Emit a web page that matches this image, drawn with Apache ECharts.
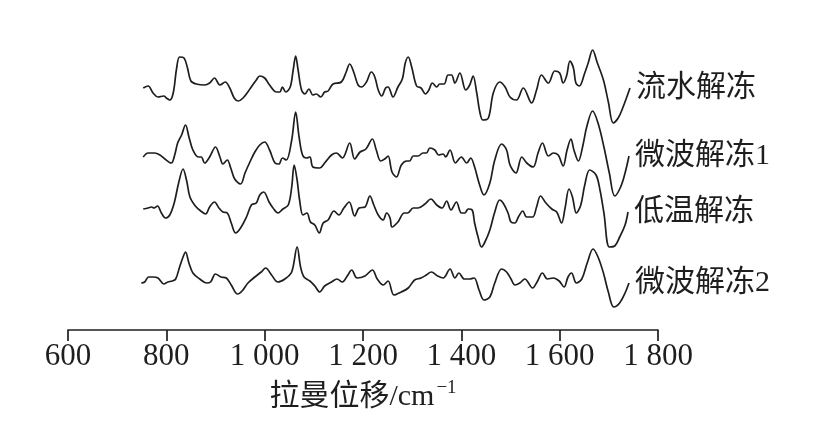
<!DOCTYPE html>
<html>
<head>
<meta charset="utf-8">
<script src="https://cdn.jsdelivr.net/npm/echarts@6/dist/echarts.min.js"></script>
<style>
html,body{margin:0;padding:0;background:#fff;}
#chart{width:839px;height:437px;}
</style>
</head>
<body>
<div id="chart"></div>
<script>
// Raman shift (cm-1) and offset intensities (a.u.)
const seriesNames = ['流水解冻', '微波解冻1', '低温解冻', '微波解冻2'];
const xTicks = [600, 800, 1000, 1200, 1400, 1600, 1800];

const wn1 = [753,763,773,783,795,800,807,814,821,827,836,843,850,861,878,888,898,909,920,929,938,946,956,970,983,990,1000,1010,1024,1031,1036,1043,1052,1058,1063,1068,1075,1082,1090,1098,1105,1114,1122,1129,1139,1156,1165,1173,1181,1190,1197,1207,1217,1224,1231,1238,1246,1251,1261,1271,1280,1286,1292,1299,1309,1318,1327,1334,1341,1350,1356,1365,1373,1380,1387,1397,1409,1417,1424,1431,1438,1444,1455,1465,1478,1489,1499,1512,1526,1543,1553,1563,1577,1590,1600,1607,1614,1621,1628,1633,1640,1651,1658,1667,1676,1689,1699,1709,1719,1729,1743];
const int1 = [242,244,237,233,234,232,230,237,262,273,272,262,249,246,245,247,252,245,248,242,232,229,232,241,250,254,252,245,238,238,243,238,243,260,274,260,240,236,241,235,236,233,238,239,246,248,257,266,258,245,243,248,258,253,240,234,242,243,233,243,251,267,273,263,244,242,236,240,247,243,246,246,255,255,247,257,240,245,254,238,217,210,212,237,248,243,233,230,242,227,240,255,247,259,257,247,254,269,262,247,244,257,267,280,268,250,228,207,212,223,242];

const wn2 = [753,763,776,787,797,810,817,823,831,839,846,854,865,871,878,888,900,909,915,924,931,939,951,960,970,980,990,1000,1010,1021,1029,1036,1044,1055,1063,1070,1077,1085,1092,1098,1112,1122,1136,1146,1158,1173,1183,1194,1206,1219,1227,1236,1244,1251,1259,1268,1278,1289,1295,1302,1312,1322,1329,1336,1346,1354,1363,1368,1377,1388,1400,1411,1419,1427,1436,1446,1458,1468,1482,1492,1499,1511,1523,1533,1546,1556,1565,1577,1587,1597,1607,1615,1623,1629,1638,1647,1655,1667,1678,1690,1701,1712,1724,1733,1741];
const int2 = [173,177,177,175,171,167,175,187,195,205,193,180,173,173,167,173,183,173,166,170,162,151,146,157,168,178,185,188,180,167,166,172,170,190,218,193,175,172,173,163,162,167,175,177,172,187,171,178,181,191,180,169,171,174,158,153,165,169,169,174,174,177,177,182,180,175,176,173,180,167,173,167,172,163,147,135,147,170,186,180,165,157,173,167,163,177,187,174,177,175,164,180,191,180,169,184,203,219,207,183,157,134,143,157,174];

const wn3 = [753,763,770,775,782,790,798,807,816,825,834,841,848,859,870,880,888,898,907,915,924,932,941,951,963,973,983,990,998,1009,1017,1027,1037,1048,1055,1060,1066,1071,1078,1086,1093,1102,1111,1119,1129,1141,1151,1161,1172,1183,1192,1204,1214,1222,1231,1241,1248,1255,1259,1271,1284,1291,1302,1312,1326,1338,1350,1361,1370,1379,1390,1400,1407,1414,1422,1427,1434,1441,1448,1458,1468,1478,1485,1495,1501,1509,1516,1525,1533,1545,1553,1561,1572,1584,1594,1604,1611,1619,1626,1634,1643,1651,1661,1674,1682,1690,1701,1712,1722,1733,1739];
const int3 = [121,122,123,122,124,117,112,115,127,147,161,150,133,124,119,116,123,128,122,118,117,107,97,102,113,125,127,135,138,128,122,117,121,125,143,165,150,130,115,117,108,105,97,107,110,119,115,122,128,114,122,123,134,125,115,110,117,112,103,108,117,117,122,122,126,131,125,122,129,120,128,117,117,121,120,107,93,83,88,100,118,130,127,117,108,107,113,119,113,113,123,134,127,121,118,107,122,141,133,117,125,145,160,155,140,117,83,84,93,105,118];

const wn4 = [749,756,764,773,783,795,803,812,819,827,834,839,846,854,868,882,890,900,911,922,932,945,954,966,980,993,1002,1014,1027,1041,1055,1066,1073,1080,1092,1102,1112,1122,1136,1147,1158,1168,1177,1188,1204,1219,1229,1241,1251,1263,1278,1292,1305,1318,1329,1339,1352,1363,1377,1387,1395,1406,1417,1426,1436,1446,1458,1468,1482,1492,1501,1509,1519,1529,1545,1554,1565,1575,1587,1599,1609,1617,1624,1634,1645,1656,1668,1678,1689,1699,1710,1722,1733,1741];
const int4 = [47,48,53,53,52,46,48,49,51,63,73,78,67,57,51,47,48,56,53,52,45,36,39,47,53,58,62,55,48,51,58,83,63,53,49,44,38,44,48,51,48,54,60,52,54,60,51,45,49,35,38,42,50,52,55,58,54,52,61,52,57,51,51,52,40,30,33,47,61,58,51,45,47,51,42,48,57,51,52,49,43,53,57,47,51,67,81,73,57,38,23,27,37,47];

const wnList = [wn1, wn2, wn3, wn4];
const intList = [int1, int2, int3, int4];

function pairs(xs, ys) { return xs.map((x, i) => [x, ys[i]]); }

function tickFmt(v) {
  if (v >= 1000) {
    const r = String(v % 1000).padStart(3, '0');
    return Math.floor(v / 1000) + ' ' + r;
  }
  return String(v);
}

const chart = echarts.init(document.getElementById('chart'), null, {renderer: 'canvas'});
const TXT = '#1e1e1e';
const FAM = '"Liberation Serif", "Noto Sans CJK SC", serif';

const series = seriesNames.map((name, k) => ({
  name: name,
  type: 'line',
  data: pairs(wnList[k], intList[k]),
  showSymbol: false,
  smooth: 0.35,
  lineStyle: {color: '#1e1e1e', width: 1.7},
  endLabel: {
    show: true,
    formatter: '{a}',
    distance: 6,
    color: TXT,
    fontSize: 30,
    fontFamily: FAM
  },
  emphasis: {disabled: true},
  animation: false
}));

chart.setOption({
  animation: false,
  backgroundColor: '#fff',
  grid: {left: 68, right: 181, top: 30, bottom: 107, containLabel: false},
  xAxis: {
    type: 'value',
    min: 600,
    max: 1800,
    interval: 200,
    name: '拉曼位移/cm{sup|−1}',
    nameLocation: 'middle',
    nameGap: 49,
    nameTextStyle: {
      color: TXT,
      fontSize: 30,
      fontFamily: FAM,
      rich: {
        sup: {fontSize: 19, fontFamily: FAM, color: TXT, padding: [0, 0, 17, 2]}
      }
    },
    axisLine: {show: true, lineStyle: {color: '#1e1e1e', width: 1.7}},
    axisTick: {show: true, length: 11, lineStyle: {color: '#1e1e1e', width: 1.7}},
    axisLabel: {
      color: TXT,
      fontSize: 31,
      fontFamily: FAM,
      margin: 11,
      formatter: tickFmt
    },
    splitLine: {show: false}
  },
  yAxis: {
    type: 'value',
    min: 0,
    max: 300,
    show: false
  },
  series: series
});
</script>
</body>
</html>
